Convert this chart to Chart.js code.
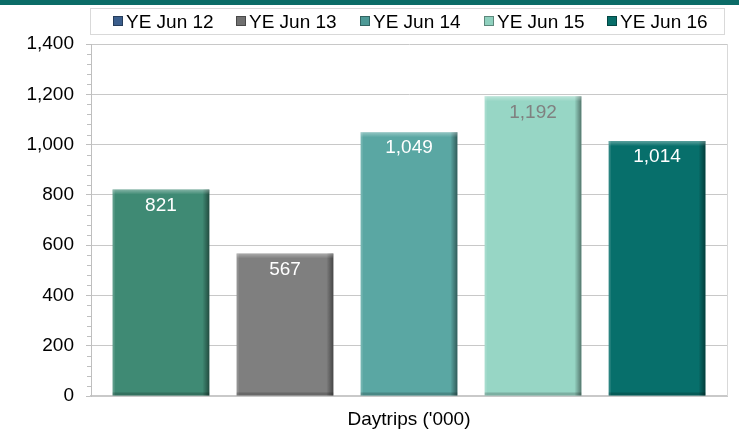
<!DOCTYPE html>
<html>
<head>
<meta charset="utf-8">
<script src="https://cdn.jsdelivr.net/npm/chart.js@4.4.1/dist/chart.umd.min.js"></script>
<style>
  html, body { margin: 0; padding: 0; background: #ffffff; }
  #wrap { position: relative; width: 739px; height: 432px; overflow: hidden; font-family: "Liberation Sans", Arial, sans-serif; }
  #band { position: absolute; left: 0; top: 0; width: 739px; height: 5px; background: #0B6C67; }
  #legend { position: absolute; left: 90px; top: 8px; width: 633px; height: 25px; border: 1px solid #D9D9D9; box-sizing: content-box; }
  .item { position: absolute; top: 2px; font-size: 19px; line-height: 21px; color: #000; white-space: nowrap; }
  .sw { display: inline-block; width: 8px; height: 8px; margin-right: 3px; vertical-align: 2px; border: 0.5px solid rgba(0,0,0,0.35); }
  canvas { position: absolute; left: 0; top: 0; }
</style>
</head>
<body>
<div id="wrap">
  <canvas id="c" width="739" height="432"></canvas>
  <div id="band"></div>
  <div id="legend"></div>
</div>
<script>
const categories = ["Daytrips ('000)"];
const seriesNames = ["YE Jun 12", "YE Jun 13", "YE Jun 14", "YE Jun 15", "YE Jun 16"];
const seriesValues = [821, 567, 1049, 1192, 1014];
const barColors = ["#3F8A74", "#7F7F7F", "#5AA7A3", "#97D6C5", "#076F6B"];
const legendColors = ["#3B5E8C", "#707070", "#4E9A97", "#8FD0BE", "#076E69"];
const labelColors = ["#FFFFFF", "#FFFFFF", "#FFFFFF", "#808080", "#FFFFFF"];
const yMin = 0, yMax = 1400, yStep = 200, yMinorStep = 40;

// HTML legend
const legendEl = document.getElementById('legend');
const legendLeft = [22, 145, 269, 393, 516];
seriesNames.forEach((n, i) => {
  const d = document.createElement('div');
  d.className = 'item';
  d.style.left = legendLeft[i] + 'px';
  d.innerHTML = '<span class="sw" style="background:' + legendColors[i] + '"></span>' + n;
  legendEl.appendChild(d);
});

const FONT = '"Liberation Sans", Arial, sans-serif';

const bevelPlugin = {
  id: 'bevel',
  afterDatasetsDraw(chart) {
    const ctx = chart.ctx;
    chart.data.datasets.forEach((ds, di) => {
      const meta = chart.getDatasetMeta(di);
      meta.data.forEach(bar => {
        const p = bar.getProps(['x', 'y', 'base', 'width'], true);
        const l = p.x - p.width / 2, r = p.x + p.width / 2, t = p.y, b = p.base;
        ctx.save();
        const g = ctx.createLinearGradient(r - 7, 0, r, 0);
        g.addColorStop(0, 'rgba(0,0,0,0)');
        g.addColorStop(1, 'rgba(0,0,0,0.45)');
        ctx.fillStyle = g;
        ctx.fillRect(r - 7, t, 7, b - t);
        const g2 = ctx.createLinearGradient(0, t, 0, t + 5);
        g2.addColorStop(0, 'rgba(255,255,255,0.35)');
        g2.addColorStop(1, 'rgba(255,255,255,0)');
        ctx.fillStyle = g2;
        ctx.fillRect(l, t, p.width, 5);
        ctx.fillStyle = 'rgba(255,255,255,0.15)';
        ctx.fillRect(l, t, 2, b - t);
        ctx.fillStyle = 'rgba(0,0,0,0.18)';
        ctx.fillRect(l, b - 3, p.width, 3);
        ctx.restore();
      });
    });
  }
};

const labelPlugin = {
  id: 'valueLabels',
  afterDatasetsDraw(chart) {
    const ctx = chart.ctx;
    ctx.save();
    ctx.font = '19px ' + FONT;
    ctx.textAlign = 'center';
    ctx.textBaseline = 'middle';
    chart.data.datasets.forEach((ds, di) => {
      const meta = chart.getDatasetMeta(di);
      meta.data.forEach((bar, i) => {
        ctx.fillStyle = labelColors[di];
        ctx.fillText(ds.data[i].toLocaleString('en-US'), bar.x, bar.y + 16);
      });
    });
    ctx.restore();
  }
};

const axisExtras = {
  id: 'axisExtras',
  afterDraw(chart) {
    const ctx = chart.ctx;
    const ys = chart.scales.y;
    const a = chart.chartArea;
    ctx.save();
    ctx.strokeStyle = '#BFBFBF';
    ctx.lineWidth = 1;
    for (let v = yMin; v <= yMax; v += yMinorStep) {
      if (v % yStep === 0) continue;
      const py = Math.round(ys.getPixelForValue(v)) + 0.5;
      ctx.beginPath();
      ctx.moveTo(a.left - 4, py);
      ctx.lineTo(a.left, py);
      ctx.stroke();
    }
    ctx.strokeStyle = '#D9D9D9';
    ctx.beginPath();
    ctx.moveTo(Math.round(a.right) + 0.5, a.top);
    ctx.lineTo(Math.round(a.right) + 0.5, a.bottom);
    ctx.stroke();
    ctx.restore();
  }
};

new Chart(document.getElementById('c'), {
  type: 'bar',
  data: {
    labels: categories,
    datasets: seriesNames.map((n, i) => ({
      label: n,
      data: [seriesValues[i]],
      backgroundColor: barColors[i],
      borderWidth: 0,
      categoryPercentage: 0.975,
      barPercentage: 0.78
    }))
  },
  options: {
    responsive: false,
    animation: false,
    devicePixelRatio: 1,
    layout: { padding: { top: 44, right: 12, left: 0, bottom: 0 } },
    plugins: {
      legend: { display: false },
      tooltip: { enabled: false }
    },
    scales: {
      x: {
        grid: { display: false },
        border: { display: true, color: '#C9C9C9', width: 2 },
        ticks: { color: '#000', font: { family: FONT, size: 19 }, padding: 4 },
        afterFit(s) { s.height = 36; }
      },
      y: {
        min: yMin, max: yMax,
        ticks: {
          stepSize: yStep, color: '#000', padding: 12,
          font: { family: FONT, size: 19 },
          callback: v => v.toLocaleString('en-US')
        },
        grid: { color: '#C8C8C8', tickLength: 5, tickColor: '#BFBFBF' },
        border: { display: true, color: '#BFBFBF', width: 1 },
        afterFit(s) { s.width = 91; }
      }
    }
  },
  plugins: [bevelPlugin, labelPlugin, axisExtras]
});
</script>
</body>
</html>
